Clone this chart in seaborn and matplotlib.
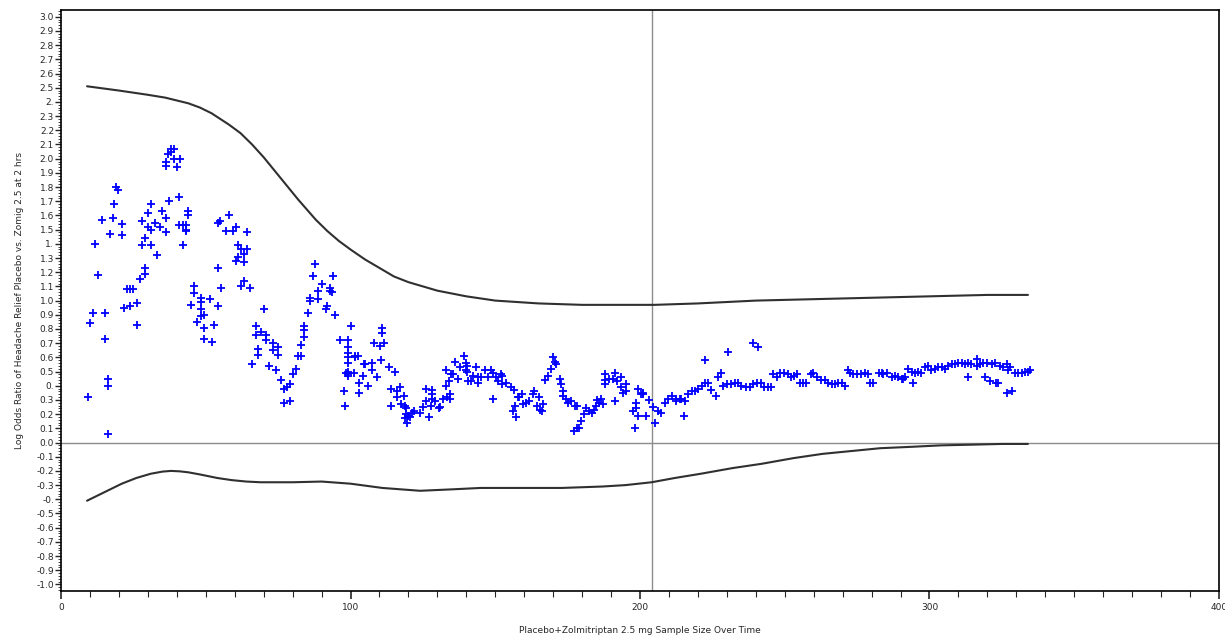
import matplotlib
matplotlib.use("Agg")
import matplotlib.pyplot as plt
import numpy as np
import pandas as pd
import seaborn as sns
from matplotlib.ticker import FixedLocator, MultipleLocator

# running log odds ratio estimates (x = cumulative sample size)
pts_x = [9.2, 10.1, 11.2, 11.9, 12.9, 14.2, 15.1, 15.1, 16.1, 16.1, 16.1, 16.9, 17.9, 18.4, 19.0, 19.8,
         21.1, 21.1, 21.9, 22.7, 23.9, 23.9, 25.0, 26.3, 26.3, 27.2, 28.0, 28.0, 29.0, 29.0, 29.0, 30.1,
         31.2, 31.2, 31.2, 30.1, 32.3, 33.0, 34.1, 34.9, 36.1, 36.1, 37.2, 36.1, 36.1, 36.9, 38.0, 39.2,
         38.0, 39.2, 41.0, 40.1, 40.9, 40.9, 42.0, 43.2, 43.2, 42.1, 43.8, 43.8, 43.2, 44.9, 45.9, 45.9,
         46.9, 48.4, 48.4, 48.4, 49.5, 48.4, 49.3, 49.3, 51.3, 53.0, 52.1, 54.3, 54.4, 54.4, 55.0, 55.3,
         57.0, 58.1, 59.3, 60.3, 60.5, 61.1, 61.1, 62.2, 62.2, 63.1, 63.2, 63.2, 64.3, 64.3, 65.3, 65.9,
         67.2, 68.2, 68.2, 69.1, 67.2, 70.1, 70.9, 70.9, 72.0, 73.2, 74.1, 75.1, 73.2, 75.1, 76.0, 77.2,
         77.0, 78.0, 79.2, 79.2, 80.3, 81.2, 81.8, 83.0, 83.0, 84.1, 84.1, 84.1, 85.3, 86.1, 86.1, 87.2,
         87.9, 88.9, 88.9, 90.2, 91.9, 91.5, 93.0, 93.0, 93.5, 94.0, 94.8, 96.2, 97.9, 98.2, 98.5, 99.1,
         99.1, 99.1, 99.1, 99.1, 99.1, 99.1, 99.3, 100.2, 101.2, 101.4, 101.4, 102.5, 103.1, 103.1, 104.3,
         104.6, 105.1, 106.1, 107.4, 107.4, 108.1, 109.2, 110.3, 110.7, 110.9, 110.9, 111.5, 113.3, 114.1,
         114.1, 115.2, 116.1, 116.1, 117.0, 117.3, 118.4, 118.7, 118.7, 119.3, 119.3, 119.6, 120.0, 120.7,
         121.4, 121.9, 123.9, 125.0, 126.2, 126.2, 127.1, 127.9, 128.1, 128.1, 128.1, 129.3, 130.4, 131.0,
         131.9, 133.1, 133.1, 133.4, 133.9, 134.2, 134.2, 134.8, 135.5, 136.0, 137.3, 137.9, 139.2, 140.0,
         140.3, 140.0, 140.3, 140.6, 141.7, 142.3, 143.2, 144.0, 144.0, 145.0, 146.6, 147.4, 148.4, 149.2,
         149.2, 150.4, 151.0, 151.9, 152.4, 152.5, 153.8, 155.5, 156.1, 156.5, 156.9, 157.3, 157.9, 158.3,
         159.3, 159.6, 160.7, 161.8, 163.0, 163.5, 164.5, 165.0, 165.6, 166.0, 166.5, 167.1, 168.2, 169.2,
         170.0, 170.5, 171.1, 172.2, 172.8, 173.4, 173.4, 174.6, 175.1, 176.3, 177.5, 177.3, 178.4, 178.4,
         178.9, 179.7, 180.7, 181.5, 182.4, 183.4, 184.1, 184.9, 185.7, 185.0, 186.4, 187.2, 188.0, 188.0,
         188.0, 189.4, 190.7, 191.3, 191.3, 192.2, 193.6, 193.6, 194.1, 195.3, 195.3, 197.6, 198.2, 198.5,
         198.5, 199.3, 199.3, 200.3, 201.1, 201.1, 202.2, 203.0, 204.5, 205.3, 206.3, 207.4, 208.5, 209.7,
         211.1, 212.6, 212.6, 213.7, 214.3, 215.2, 215.5, 216.6, 217.8, 218.9, 220.1, 221.5, 222.4, 222.4,
         223.5, 224.4, 226.2, 227.0, 227.9, 228.7, 230.3, 230.0, 231.6, 232.7, 233.9, 235.0, 236.5, 237.9,
         239.1, 240.6, 239.1, 240.4, 241.7, 242.9, 244.2, 245.4, 246.0, 247.2, 248.3, 249.8, 251.2, 252.1,
         253.3, 254.4, 255.2, 256.4, 257.5, 259.0, 259.8, 261.3, 262.5, 263.8, 265.0, 266.3, 267.5, 268.5,
         269.7, 270.8, 271.9, 272.5, 273.6, 275.0, 276.5, 277.7, 278.8, 279.4, 280.6, 282.4, 283.6, 284.0,
         285.2, 286.9, 288.0, 289.2, 290.4, 290.9, 291.5, 292.7, 293.8, 295.0, 294.4, 296.1, 297.0, 298.4,
         299.5, 300.5, 301.9, 303.0, 304.2, 305.3, 306.5, 307.6, 308.8, 310.0, 311.1, 312.3, 313.4, 313.2,
         314.5, 316.3, 316.3, 317.4, 318.5, 319.7, 319.2, 320.9, 321.5, 322.6, 322.8, 323.8, 324.3, 325.4,
         326.6, 326.6, 327.2, 327.8, 328.4, 329.5, 330.6, 331.8, 333.0, 334.0, 334.7]
pts_y = [0.32, 0.84, 0.91, 1.40, 1.18, 1.57, 0.91, 0.73, 0.45, 0.40, 0.06, 1.47, 1.58, 1.68, 1.80, 1.78,
         1.54, 1.46, 0.95, 1.08, 0.96, 1.08, 1.08, 0.98, 0.83, 1.15, 1.39, 1.56, 1.19, 1.23, 1.44, 1.62,
         1.68, 1.39, 1.50, 1.52, 1.55, 1.32, 1.52, 1.63, 1.58, 1.48, 1.70, 1.98, 1.95, 2.03, 2.07, 2.07,
         2.05, 2.00, 2.00, 1.94, 1.73, 1.53, 1.53, 1.53, 1.50, 1.39, 1.63, 1.60, 1.49, 0.97, 1.10, 1.05,
         0.85, 1.02, 0.99, 0.94, 0.90, 0.89, 0.81, 0.73, 1.01, 0.83, 0.71, 1.55, 1.23, 0.96, 1.56, 1.09,
         1.49, 1.60, 1.49, 1.28, 1.52, 1.39, 1.31, 1.36, 1.10, 1.14, 1.27, 1.33, 1.48, 1.36, 1.09, 0.55,
         0.82, 0.66, 0.62, 0.78, 0.76, 0.94, 0.76, 0.72, 0.54, 0.70, 0.51, 0.67, 0.65, 0.62, 0.44, 0.38,
         0.28, 0.39, 0.41, 0.29, 0.48, 0.52, 0.61, 0.61, 0.69, 0.82, 0.79, 0.74, 0.91, 1.02, 1.00, 1.17,
         1.26, 1.07, 1.01, 1.12, 0.96, 0.94, 1.09, 1.07, 1.06, 1.17, 0.90, 0.72, 0.36, 0.26, 0.49, 0.72,
         0.67, 0.63, 0.60, 0.56, 0.50, 0.47, 0.48, 0.82, 0.49, 0.61, 0.60, 0.61, 0.42, 0.35, 0.47,
         0.55, 0.55, 0.40, 0.56, 0.51, 0.70, 0.46, 0.68, 0.58, 0.81, 0.77, 0.70, 0.53, 0.38,
         0.26, 0.50, 0.36, 0.32, 0.39, 0.27, 0.33, 0.26, 0.17, 0.24, 0.20, 0.14, 0.19, 0.18,
         0.21, 0.22, 0.21, 0.25, 0.29, 0.38, 0.18, 0.26, 0.37, 0.34, 0.31, 0.29, 0.24, 0.25,
         0.31, 0.40, 0.51, 0.32, 0.43, 0.34, 0.31, 0.48, 0.48, 0.57, 0.45, 0.53, 0.61, 0.56,
         0.54, 0.51, 0.50, 0.43, 0.43, 0.47, 0.53, 0.46, 0.42, 0.46, 0.51, 0.46, 0.51, 0.31,
         0.49, 0.46, 0.43, 0.48, 0.47, 0.41, 0.42, 0.39, 0.22, 0.37, 0.26, 0.18, 0.32, 0.32,
         0.34, 0.27, 0.28, 0.29, 0.34, 0.36, 0.26, 0.32, 0.23, 0.22, 0.27, 0.44, 0.47, 0.52,
         0.60, 0.57, 0.55, 0.45, 0.41, 0.36, 0.33, 0.31, 0.28, 0.29, 0.26, 0.08, 0.26, 0.10,
         0.10, 0.15, 0.20, 0.24, 0.22, 0.21, 0.23, 0.26, 0.28, 0.30, 0.31, 0.27, 0.48, 0.44,
         0.41, 0.45, 0.45, 0.49, 0.29, 0.43, 0.46, 0.39, 0.35, 0.36, 0.41, 0.22, 0.10, 0.28,
         0.24, 0.38, 0.19, 0.34, 0.34, 0.35, 0.19, 0.30, 0.25, 0.14, 0.22, 0.21, 0.28, 0.31,
         0.33, 0.29, 0.31, 0.31, 0.31, 0.19, 0.29, 0.34, 0.36, 0.36, 0.38, 0.40, 0.42, 0.58,
         0.42, 0.37, 0.33, 0.46, 0.49, 0.40, 0.64, 0.41, 0.41, 0.42, 0.42, 0.40, 0.39, 0.39,
         0.70, 0.67, 0.41, 0.42, 0.42, 0.39, 0.39, 0.39, 0.48, 0.46, 0.49, 0.49, 0.48, 0.46,
         0.47, 0.48, 0.42, 0.42, 0.42, 0.48, 0.49, 0.46, 0.44, 0.44, 0.42, 0.41, 0.41, 0.42,
         0.42, 0.40, 0.51, 0.49, 0.48, 0.48, 0.48, 0.49, 0.48, 0.42, 0.42, 0.49, 0.49, 0.48,
         0.49, 0.46, 0.47, 0.46, 0.45, 0.45, 0.46, 0.52, 0.50, 0.49, 0.42, 0.50, 0.49, 0.53,
         0.54, 0.51, 0.52, 0.53, 0.53, 0.52, 0.54, 0.55, 0.55, 0.56, 0.56, 0.55, 0.56, 0.46,
         0.55, 0.59, 0.54, 0.55, 0.56, 0.56, 0.46, 0.43, 0.55, 0.56, 0.42, 0.42, 0.54, 0.53,
         0.55, 0.35, 0.51, 0.53, 0.36, 0.49, 0.49, 0.49, 0.50, 0.50, 0.51]

# monitoring boundaries
upper_x = [9, 20, 30, 36, 40, 44, 48, 52, 55, 58, 62, 66, 70, 74, 78, 82, 85, 88, 92, 96, 100, 105,
           110, 115, 120, 125, 130, 140, 150, 165, 180, 195, 205, 220, 240, 260, 280, 300, 320, 334]
upper_y = [2.51, 2.48, 2.45, 2.43, 2.41, 2.39, 2.36, 2.32, 2.28, 2.24, 2.18, 2.10, 2.01, 1.91, 1.81,
           1.71, 1.64, 1.57, 1.49, 1.42, 1.36, 1.29, 1.23, 1.17, 1.13, 1.10, 1.07, 1.03, 1.00, 0.98,
           0.97, 0.97, 0.97, 0.98, 1.00, 1.01, 1.02, 1.03, 1.04, 1.04]
lower_x = [9, 15, 21, 26, 31, 35, 38, 41, 44, 48, 54, 59, 64, 69, 80, 90, 100, 111, 124, 135, 145,
           160, 173, 187, 195, 204, 212, 221, 232, 242, 253, 263, 273, 283, 294, 304, 315, 325, 334]
lower_y = [-0.41, -0.35, -0.29, -0.25, -0.22, -0.205, -0.20, -0.203, -0.21, -0.225, -0.25, -0.265,
           -0.275, -0.28, -0.28, -0.275, -0.29, -0.32, -0.34, -0.33, -0.32, -0.32, -0.32, -0.31,
           -0.30, -0.28, -0.25, -0.22, -0.18, -0.15, -0.11, -0.08, -0.06, -0.04, -0.03, -0.02,
           -0.015, -0.01, -0.01]

vline_x = 204
y_ticks = [round(3.0 - 0.1 * i, 1) for i in range(41)]
y_tick_labels = ["3.0", "2.9", "2.8", "2.7", "2.6", "2.5", "2.", "2.3", "2.2", "2.1", "2.0",
                 "1.9", "1.8", "1.7", "1.6", "1.5", "1.", "1.3", "1.2", "1.1", "1.0",
                 "0.9", "0.8", "0.7", "0.6", "0.5", "0.", "0.3", "0.2", "0.1", "0.0",
                 "-0.1", "-0.2", "-0.3", "-0.", "-0.5", "-0.6", "-0.7", "-0.8", "-0.9", "-1.0"]
x_ticks = [0, 100, 200, 300, 400]

sns.set_style("ticks")
plt.rcParams["font.family"] = ["DejaVu Sans"]

fig = plt.figure(figsize=(12.25, 6.38), dpi=100)
ax = fig.add_axes([0.0498, 0.0737, 0.9453, 0.9103])

ax.axhline(0, color="#8c8c8c", linewidth=1, zorder=1)
ax.axvline(vline_x, color="#8c8c8c", linewidth=1, zorder=1)

bounds = pd.DataFrame({"x": upper_x, "y": upper_y})
sns.lineplot(data=bounds, x="x", y="y", color="#303030", linewidth=1.5, ax=ax, sort=True)
bounds_lo = pd.DataFrame({"x": lower_x, "y": lower_y})
sns.lineplot(data=bounds_lo, x="x", y="y", color="#303030", linewidth=1.5, ax=ax, sort=True)

pts = pd.DataFrame({"x": pts_x, "y": pts_y})
sns.scatterplot(data=pts, x="x", y="y", marker="+", color="#0000ff", s=36, linewidth=1.3, ax=ax,
                zorder=3)

ax.set_xlim(0, 400)
ax.set_ylim(-1.046, 3.046)
ax.yaxis.set_major_locator(FixedLocator(y_ticks))
ax.set_yticklabels(y_tick_labels)
ax.yaxis.set_minor_locator(MultipleLocator(0.02))
ax.set_xticks(x_ticks)
ax.set_xticklabels([str(v) for v in x_ticks])
ax.xaxis.set_minor_locator(MultipleLocator(10))

ax.tick_params(axis="y", which="major", length=4, width=1, labelsize=6.5, pad=1)
ax.tick_params(axis="y", which="minor", length=2, width=0.6)
ax.tick_params(axis="x", which="major", length=6, width=1.2, labelsize=6.5, pad=3)
ax.tick_params(axis="x", which="minor", length=4, width=0.8)
for spine in ax.spines.values():
    spine.set_visible(True)
    spine.set_color("#000000")
    spine.set_linewidth(1.2)

ax.set_ylabel("Log Odds Ratio of Headache Relief Placebo vs. Zomig 2.5 at 2 hrs", fontsize=6.5,
              labelpad=9)
ax.set_xlabel("Placebo+Zolmitriptan 2.5 mg Sample Size Over Time", fontsize=6.5, labelpad=10)

plt.savefig("out.png", dpi=100)
